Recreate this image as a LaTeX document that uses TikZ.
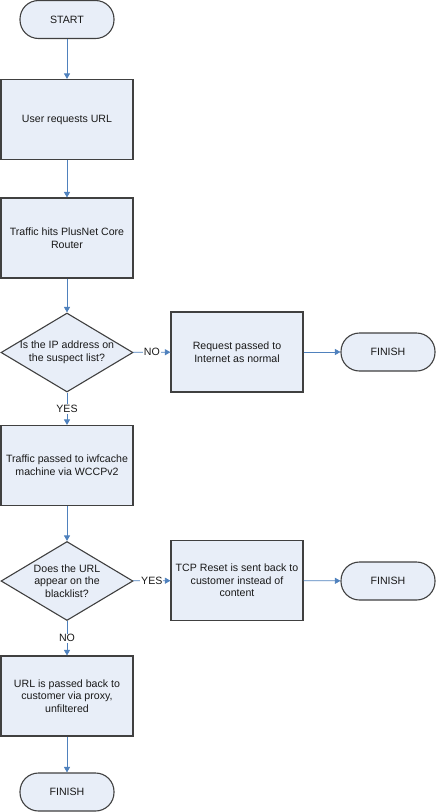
\documentclass[tikz,border=0pt]{standalone}
\usepackage{fontspec}
\setmainfont{Liberation Sans}
\usetikzlibrary{shapes.geometric,arrows.meta}
\definecolor{boxfill}{HTML}{E8EEF8}
\definecolor{boxline}{HTML}{404040}
\definecolor{arrowblue}{HTML}{4F81BD}
\tikzset{
  base/.style={draw=boxline, line width=1.1pt, fill=boxfill, inner sep=0pt, align=center,
    font=\fontsize{10.6}{12.7}\selectfont, text=black!90},
  procbox/.style={base, rectangle, minimum width=132pt, minimum height=80pt},
  termbox/.style={base, rectangle, rounded corners=18.5pt, minimum width=94pt, minimum height=38pt},
  decbox/.style={base, diamond, minimum width=132pt, minimum height=79pt},
  flow/.style={draw=arrowblue, line width=0.8pt, -{Triangle[length=5.5pt,width=6pt]}},
  lbl/.style={fill=white, inner sep=1pt, font=\fontsize{10.6}{12.7}\selectfont, text=black!90}
}
\begin{document}
\begin{tikzpicture}[x=1pt,y=-1pt]
\useasboundingbox (0,0) rectangle (436,812);
\node[termbox] (start) at (67,19.5) {START};
\node[procbox] (b1) at (67,119.5) {User requests URL};
\node[procbox] (b2) at (67,238) {Traffic hits PlusNet Core\\Router};
\node[decbox, label={[align=center, font=\fontsize{10.6}{12.7}\selectfont, text=black!90]center:Is the IP address on\\the suspect list?}] (d1) at (67,352.5) {};
\node[procbox] (b3) at (237,352) {Request passed to\\Internet as normal};
\node[termbox] (f1) at (388,352) {FINISH};
\node[procbox] (b4) at (67,465.5) {Traffic passed to iwfcache\\machine via WCCPv2};
\node[decbox, label={[align=center, font=\fontsize{10.6}{12.7}\selectfont, text=black!90]center:Does the URL\\appear on the\\blacklist?}] (d2) at (67,581) {};
\node[procbox] (b5) at (237,580.5) {TCP Reset is sent back to\\customer instead of\\content};
\node[termbox] (f2) at (388,581) {FINISH};
\node[procbox] (b6) at (67,696) {URL is passed back to\\customer via proxy,\\unfiltered};
\node[termbox] (f3) at (67,792) {FINISH};

\draw[flow] (start) -- (b1);
\draw[flow] (b1) -- (b2);
\draw[flow] (b2) -- (d1);
\draw[flow] (d1) -- node[lbl] {NO} (b3);
\draw[flow] (b3) -- (f1);
\draw[flow] (d1) -- node[lbl] {YES} (b4);
\draw[flow] (b4) -- (d2);
\draw[flow] (d2) -- node[lbl] {YES} (b5);
\draw[flow] (b5) -- (f2);
\draw[flow] (d2) -- node[lbl] {NO} (b6);
\draw[flow] (b6) -- (f3);
\end{tikzpicture}
\end{document}
